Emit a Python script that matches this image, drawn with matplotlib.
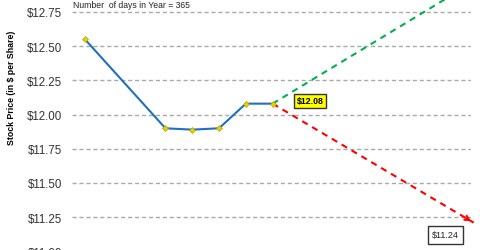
import matplotlib
matplotlib.use("Agg")
import matplotlib.pyplot as plt

plt.rcParams["font.family"] = ["Liberation Sans", "DejaVu Sans"]

# observed share prices (x = period index)
hist_x = [0, 3, 4, 5, 6, 7]
hist_y = [12.55, 11.90, 11.89, 11.90, 12.08, 12.08]

# projections from the last observed price
proj_x = [7, 14.5]
bull_y = [12.08, 12.97]
bear_y = [12.08, 11.21]

yticks = [11.00, 11.25, 11.50, 11.75, 12.00, 12.25, 12.50, 12.75]
last_label = "$12.08"
bear_label = "$11.24"
note = "Number  of days in Year = 365"

W, H = 480, 251
fig = plt.figure(figsize=(W / 100, H / 100), dpi=100)
ax = fig.add_axes([72 / W, -1.4 / H, 399 / W, 252.4 / H])
ax.set_xlim(-0.485, 14.4)
ax.set_ylim(11.0, 12.845)

for s in ax.spines.values():
    s.set_visible(False)
ax.set_xticks([])
ax.set_yticks(yticks)
ax.set_yticklabels([f"${v:.2f}" for v in yticks], fontsize=8.3, color="#333333")
ax.tick_params(axis="y", length=0, pad=7)
ax.yaxis.grid(True, color="#aaaaaa", linestyle=(0, (3, 2)), linewidth=1)
ax.set_axisbelow(True)

ax.plot(proj_x, bull_y, color="#00b050", linestyle=(0, (3, 2.5)), linewidth=1.5,
        clip_on=False, zorder=2)
ax.plot(proj_x, bear_y, color="#ff0000", linestyle=(0, (3, 2.5)), linewidth=1.5,
        clip_on=False, zorder=2)
dx = proj_x[1] - proj_x[0]
dy = bear_y[1] - bear_y[0]
ax.annotate("", xy=(proj_x[1], bear_y[1]),
            xytext=(proj_x[1] - 0.05 * dx, bear_y[1] - 0.05 * dy),
            arrowprops=dict(arrowstyle="->", color="#ff0000", lw=1.5,
                            mutation_scale=8), annotation_clip=False)

ax.plot(hist_x, hist_y, color="#1f70c1", linewidth=1.5, marker="D", markersize=3,
        markerfacecolor="#e6d200", markeredgecolor="#b0a000", markeredgewidth=0.5,
        zorder=3)

ax.text(8.4, 12.10, last_label, fontsize=6.3, fontweight="bold", ha="center",
        va="center",
        bbox=dict(boxstyle="square,pad=0.3", facecolor="#ffff00",
                  edgecolor="#333333", linewidth=1))
ax.text(13.45, 11.12, bear_label, fontsize=6.5, ha="center", va="center",
        color="#222222",
        bbox=dict(boxstyle="square,pad=0.45", facecolor="white",
                  edgecolor="#333333", linewidth=1))

fig.text(73 / W, 1 - 5 / H, note, fontsize=6.2, ha="left", va="center",
         color="#222222")
fig.text(12 / W, 1 - 88 / H, "Stock Price (in $ per Share)", fontsize=6.3,
         fontweight="bold", rotation=90, ha="center", va="center")

fig.savefig("out.png", dpi=100)
